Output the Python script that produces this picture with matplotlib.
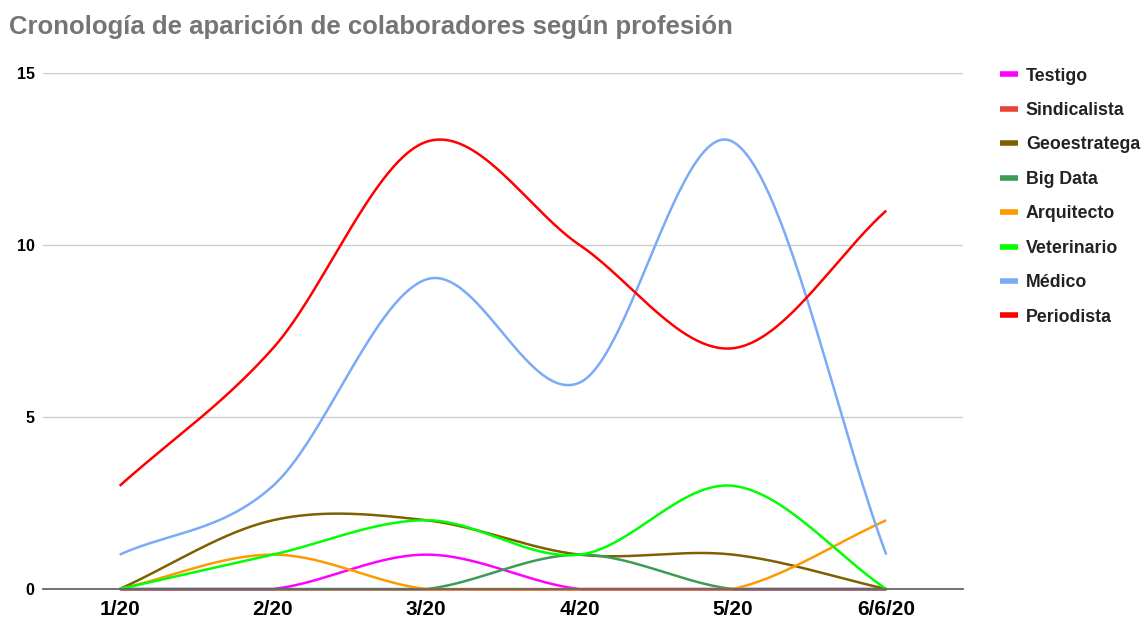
import numpy as np
import matplotlib.pyplot as plt
from matplotlib.lines import Line2D

plt.rcParams['font.family'] = ['Liberation Sans', 'DejaVu Sans']

months = ["1/20", "2/20", "3/20", "4/20", "5/20", "6/6/20"]

testigo = [0, 0, 1, 0, 0, 0]
sindicalista = [0, 0, 0, 0, 0, 0]
geoestratega = [0, 2, 2, 1, 1, 0]
big_data = [0, 0, 0, 1, 0, 0]
arquitecto = [0, 1, 0, 0, 0, 2]
veterinario = [0, 1, 2, 1, 3, 0]
medico = [1, 3, 9, 6, 13, 1]
periodista = [3, 7, 13, 10, 7, 11]

series = [
    ("Testigo", testigo, "#ff00ff"),
    ("Sindicalista", sindicalista, "#ea4335"),
    ("Geoestratega", geoestratega, "#7f6000"),
    ("Big Data", big_data, "#3d9b55"),
    ("Arquitecto", arquitecto, "#ff9900"),
    ("Veterinario", veterinario, "#00ff00"),
    ("Médico", medico, "#7baaf7"),
    ("Periodista", periodista, "#ff0000"),
]


def smooth(y, n=60):
    # Catmull-Rom style curve through the points (like the sheet's "smooth" option)
    y = np.asarray(y, dtype=float)
    k = len(y)
    m = np.zeros(k)
    m[1:-1] = (y[2:] - y[:-2]) / 2
    m[0] = y[1] - y[0]
    m[-1] = y[-1] - y[-2]
    xs, ys = [], []
    t = np.linspace(0, 1, n)
    h00 = 2 * t**3 - 3 * t**2 + 1
    h10 = t**3 - 2 * t**2 + t
    h01 = -2 * t**3 + 3 * t**2
    h11 = t**3 - t**2
    for i in range(k - 1):
        xs.append(i + t)
        ys.append(h00 * y[i] + h10 * m[i] + h01 * y[i + 1] + h11 * m[i + 1])
    return np.concatenate(xs), np.maximum(np.concatenate(ys), 0)


fig = plt.figure(figsize=(11.47, 6.22), dpi=100)
ax = fig.add_axes([0.0375, 0.053, 0.802, 0.8296])

x = np.arange(len(months))
for i, (name, vals, color) in enumerate(series):
    sx, sy = smooth(vals)
    # the all-zero series sits underneath the others on the baseline
    z = 1.9 if name == "Sindicalista" else 2 + i * 0.01
    ax.plot(sx, sy, color=color, lw=1.8, solid_capstyle='butt', clip_on=False, zorder=z)

ax.set_xlim(-0.5, len(months) - 0.5)
ax.set_ylim(0, 15)
ax.set_yticks([0, 5, 10, 15])
ax.set_yticklabels(["0", "5", "10", "15"], fontsize=11.5, fontweight='bold')
ax.set_xticks(x)
ax.set_xticklabels(months, fontsize=15, fontweight='bold')
ax.tick_params(length=0)
ax.tick_params(axis='x', pad=8)
ax.tick_params(axis='y', pad=6)
ax.grid(axis='y', color='#cccccc', lw=1)
ax.set_axisbelow(True)
for s in ['top', 'right', 'left']:
    ax.spines[s].set_visible(False)
ax.spines['bottom'].set_color('#666666')
ax.spines['bottom'].set_linewidth(1.3)

fig.text(0.008, 0.957, "Cronología de aparición de colaboradores según profesión",
         fontsize=18.5, fontweight='bold', color='#757575', va='center')

handles = [Line2D([0], [0], color=c, lw=4, solid_capstyle='butt') for _, _, c in series]
labels = [n for n, _, _ in series]
leg = fig.legend(handles, labels, loc='upper left', bbox_to_anchor=(0.858, 0.917),
                 frameon=False, handlelength=1.0, handletextpad=0.45,
                 labelspacing=0.98, prop={'size': 12.8, 'weight': 'bold'})
for t in leg.get_texts():
    t.set_color('#222222')

plt.savefig("out.png", dpi=100)
